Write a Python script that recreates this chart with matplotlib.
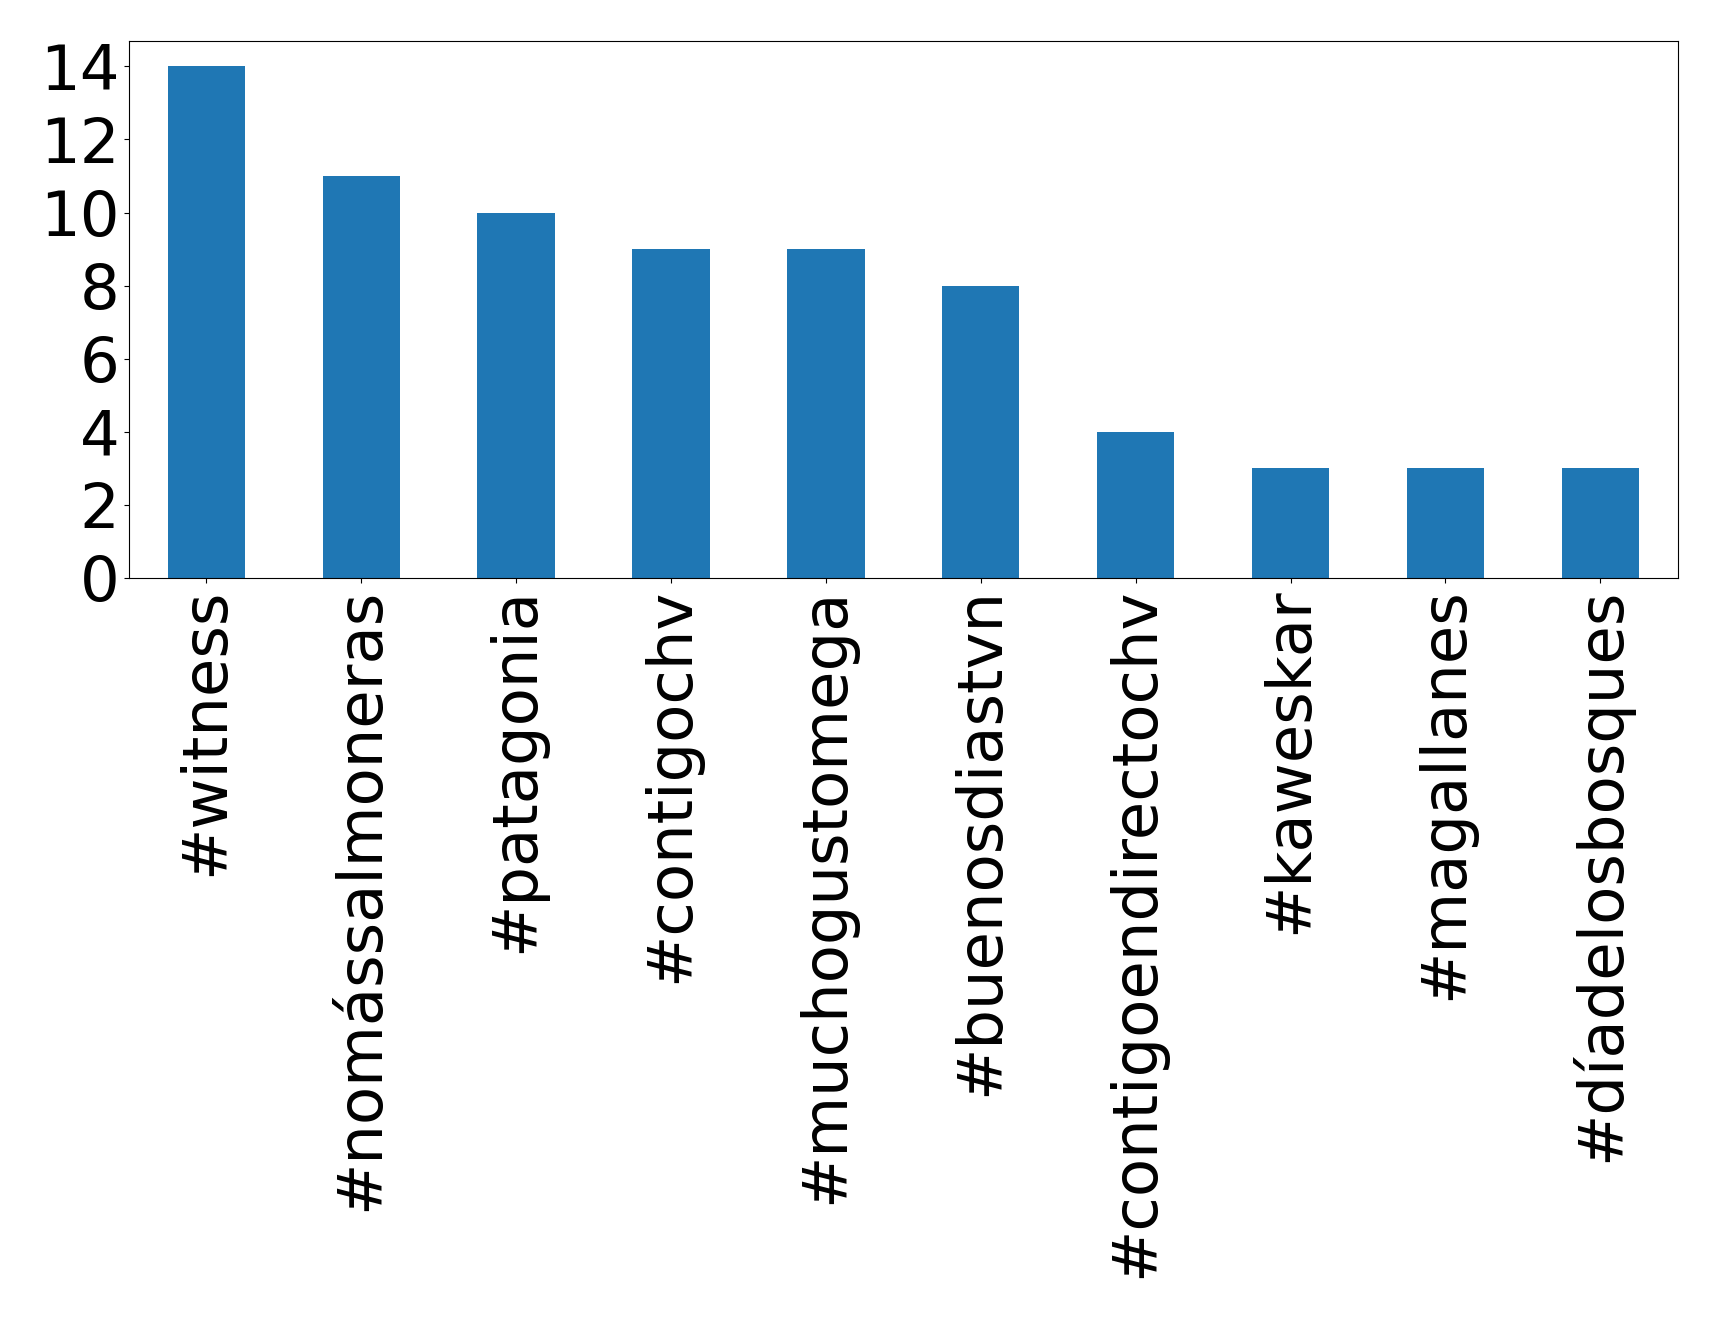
import matplotlib
matplotlib.use('Agg')
import matplotlib.pyplot as plt
import numpy as np

hashtags = ['#witness', '#nomássalmoneras', '#patagonia', '#contigochv', '#muchogustomega',
            '#buenosdiastvn', '#contigoendirectochv', '#kaweskar', '#magallanes', '#díadelosbosques']
counts = [14, 11, 10, 9, 9, 8, 4, 3, 3, 3]

fig = plt.figure(figsize=(17.19, 13.19), dpi=100)
ax = fig.add_axes([0.075, 0.562, 0.901, 0.407])
xp = np.arange(len(hashtags))
ax.bar(xp, counts, 0.5, color='#1f77b4')
ax.set_xlim(-0.5, len(hashtags) - 0.5)
ax.set_xticks(xp)
ax.set_xticklabels(hashtags, rotation=90)
ax.set_yticks(range(0, 15, 2))
ax.tick_params(labelsize=45)
plt.savefig('out.png', dpi=100)
